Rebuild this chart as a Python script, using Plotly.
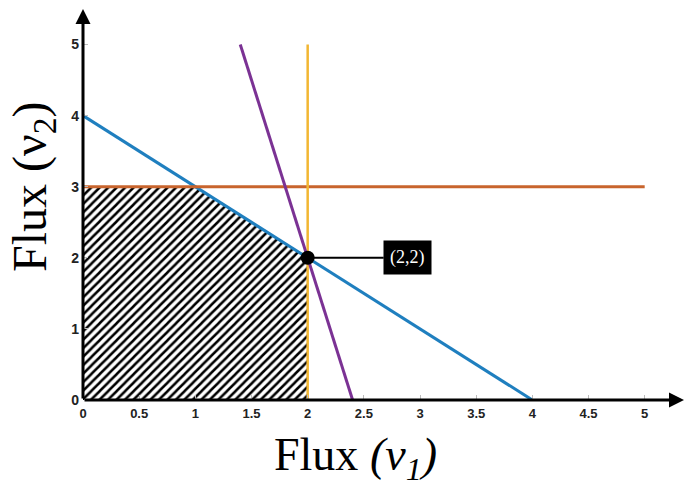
import plotly.graph_objects as go

# Data
feasible_x = [0, 0, 1, 2, 2, 0]
feasible_y = [0, 3, 3, 2, 0, 0]
blue_x = [0, 4]; blue_y = [4, 0]          # v1 + v2 = 4
orange_x = [0, 5]; orange_y = [3, 3]      # v2 = 3
yellow_x = [2, 2]; yellow_y = [0, 5]      # v1 = 2
purple_x = [1.4, 2.4]; purple_y = [5, 0]  # 5 v1 + v2 = 12
opt_x = [2]; opt_y = [2]
opt_label = "(2,2)"
xticks = [0, 0.5, 1, 1.5, 2, 2.5, 3, 3.5, 4, 4.5, 5]
xticklabels = ["0", "0.5", "1", "1.5", "2", "2.5", "3", "3.5", "4", "4.5", "5"]
yticks = [0, 1, 2, 3, 4, 5]
yticklabels = ["0", "1", "2", "3", "4", "5"]

fig = go.Figure()
fig.add_trace(go.Scatter(x=feasible_x, y=feasible_y, fill="toself", mode="lines",
                         line=dict(width=0),
                         fillcolor="white",
                         fillpattern=dict(shape="/", fgcolor="black", bgcolor="white",
                                          fgopacity=1, size=6, solidity=0.42),
                         hoverinfo="skip", showlegend=False))
fig.add_trace(go.Scatter(x=blue_x, y=blue_y, mode="lines",
                         line=dict(color="#1f7fbf", width=3), showlegend=False))
fig.add_trace(go.Scatter(x=orange_x, y=orange_y, mode="lines",
                         line=dict(color="#c8642d", width=3), showlegend=False))
fig.add_trace(go.Scatter(x=yellow_x, y=yellow_y, mode="lines",
                         line=dict(color="#f2b632", width=2.5), showlegend=False))
fig.add_trace(go.Scatter(x=purple_x, y=purple_y, mode="lines",
                         line=dict(color="#7b3294", width=3), showlegend=False))
fig.add_trace(go.Scatter(x=opt_x, y=opt_y, mode="markers",
                         marker=dict(color="black", size=14), showlegend=False))

annotations = [
    # axis arrows
    dict(x=5.35, y=0, ax=0, ay=0, xref="x", yref="y", axref="x", ayref="y",
         text="", showarrow=True, arrowhead=2, arrowsize=1, arrowwidth=3, arrowcolor="black"),
    dict(x=0, y=5.5, ax=0, ay=0, xref="x", yref="y", axref="x", ayref="y",
         text="", showarrow=True, arrowhead=2, arrowsize=1, arrowwidth=3, arrowcolor="black"),
    # optimum label
    dict(x=opt_x[0], y=opt_y[0], xref="x", yref="y", ax=100, ay=0,
         text=opt_label, showarrow=True, arrowhead=0, arrowwidth=2, arrowcolor="black",
         bgcolor="black", borderpad=6, font=dict(color="white", size=18, family="Liberation Serif")),
    # axis titles
    dict(x=0.4526, y=-0.148, xref="paper", yref="paper", showarrow=False,
         xanchor="center", yanchor="middle",
         text="Flux <i>(ν<sub>1</sub>)</i>", font=dict(size=46, family="Liberation Serif", color="black")),
    dict(x=-0.083, y=0.545, xref="paper", yref="paper", showarrow=False, textangle=-90,
         xanchor="center", yanchor="middle",
         text="Flux (ν<sub>2</sub>)", font=dict(size=48, family="Liberation Serif", color="black")),
]

fig.update_layout(
    width=684, height=492,
    margin=dict(l=83, r=0, t=9, b=92),
    plot_bgcolor="white", paper_bgcolor="white",
    annotations=annotations,
    xaxis=dict(range=[0, 5.35], showgrid=False, zeroline=False, showline=False,
               tickvals=xticks, ticktext=["<b>%s</b>" % t for t in xticklabels],
               ticks="inside", ticklen=5, tickcolor="#bbbbbb", ticklabelstandoff=4,
               tickfont=dict(size=13, family="Liberation Sans", color="#222")),
    yaxis=dict(range=[0, 5.5], showgrid=False, zeroline=False, showline=False,
               tickvals=yticks, ticktext=["<b>%s</b>" % t for t in yticklabels],
               ticks="inside", ticklen=5, tickcolor="#bbbbbb", ticklabelstandoff=3,
               tickfont=dict(size=14, family="Liberation Sans", color="#222")),
)

fig.write_html("out.html")
